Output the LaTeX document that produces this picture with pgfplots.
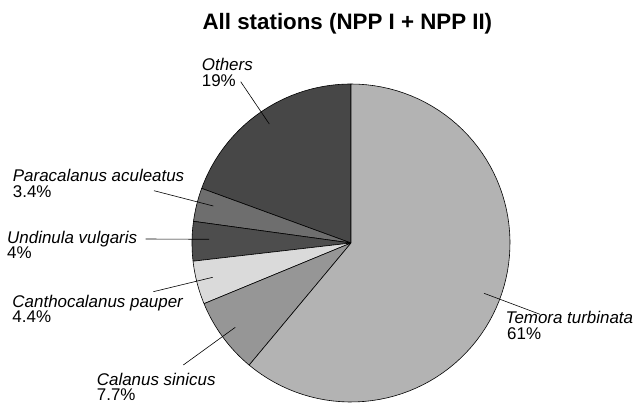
\documentclass[border=0pt]{standalone}
\usepackage{pgfplots}
\pgfplotsset{compat=1.18}
\usepackage{pgfplotstable}
\usepackage{fontspec}
\setmainfont{Liberation Sans}
\definecolor{cTem}{HTML}{B3B3B3}
\definecolor{cCal}{HTML}{969696}
\definecolor{cCan}{HTML}{DADADA}
\definecolor{cUnd}{HTML}{4D4D4D}
\definecolor{cPar}{HTML}{6E6E6E}
\definecolor{cOth}{HTML}{474747}
% shares in percent, counter-clockwise from 12 o'clock:
% Others, Paracalanus aculeatus, Undinula vulgaris, Canthocalanus pauper, Calanus sinicus, Temora turbinata
\pgfplotstableread{
value
19.4
3.4
4
4.4
7.7
61
}\piedata
\begin{document}
\begin{tikzpicture}
\pgfplotstablegetelem{0}{value}\of\piedata \let\vA\pgfplotsretval
\pgfplotstablegetelem{1}{value}\of\piedata \let\vB\pgfplotsretval
\pgfplotstablegetelem{2}{value}\of\piedata \let\vC\pgfplotsretval
\pgfplotstablegetelem{3}{value}\of\piedata \let\vD\pgfplotsretval
\pgfplotstablegetelem{4}{value}\of\piedata \let\vE\pgfplotsretval
\pgfplotstablegetelem{5}{value}\of\piedata \let\vF\pgfplotsretval
\pgfmathsetmacro\tot{\vA+\vB+\vC+\vD+\vE+\vF}
\pgfmathsetmacro\aA{90}
\pgfmathsetmacro\aB{\aA+(\vA/\tot)*360}
\pgfmathsetmacro\aC{\aB+(\vB/\tot)*360}
\pgfmathsetmacro\aD{\aC+(\vC/\tot)*360}
\pgfmathsetmacro\aE{\aD+(\vD/\tot)*360}
\pgfmathsetmacro\aF{\aE+(\vE/\tot)*360}
\pgfmathsetmacro\aG{\aF+(\vF/\tot)*360}
\begin{axis}[scale only axis, width=636bp, height=403bp,
  xmin=0, xmax=636, ymin=0, ymax=403, hide axis, clip=false]
\coordinate (bl) at (axis cs:0,0);
\coordinate (tr) at (axis cs:636,403);
\pgfplotsset{slice/.style={draw=black, line width=0.6pt, line join=round, samples=80}}
\addplot[slice, fill=cOth, domain=\aA:\aB] ({351+159*cos(x)},{160+159*sin(x)}) -- (axis cs:351,160) -- cycle;
\addplot[slice, fill=cPar, domain=\aB:\aC] ({351+159*cos(x)},{160+159*sin(x)}) -- (axis cs:351,160) -- cycle;
\addplot[slice, fill=cUnd, domain=\aC:\aD] ({351+159*cos(x)},{160+159*sin(x)}) -- (axis cs:351,160) -- cycle;
\addplot[slice, fill=cCan, domain=\aD:\aE] ({351+159*cos(x)},{160+159*sin(x)}) -- (axis cs:351,160) -- cycle;
\addplot[slice, fill=cCal, domain=\aE:\aF] ({351+159*cos(x)},{160+159*sin(x)}) -- (axis cs:351,160) -- cycle;
\addplot[slice, fill=cTem, domain=\aF:\aG] ({351+159*cos(x)},{160+159*sin(x)}) -- (axis cs:351,160) -- cycle;
% leader lines
\addplot[black, line width=0.6pt] coordinates {(240.7,321.3) (269.3,279)};
\addplot[black, line width=0.6pt] coordinates {(154,212.3) (213.3,197)};
\addplot[black, line width=0.6pt] coordinates {(145.7,164) (209,163.7)};
\addplot[black, line width=0.6pt] coordinates {(153.3,111.3) (212.7,125.7)};
\addplot[black, line width=0.6pt] coordinates {(183.3,38) (235.3,75.7)};
\addplot[black, line width=0.6pt] coordinates {(540,88.7) (484,109.7)};
% title
\node[anchor=base, inner sep=0pt, font=\fontsize{22.4}{24}\selectfont\bfseries] at (axis cs:347.4,373.7) {All stations (NPP I + NPP II)};
% labels
\tikzset{lab/.style={anchor=base west, inner sep=0pt, font=\fontsize{17}{18}\selectfont\itshape},
         pct/.style={anchor=base west, inner sep=0pt, font=\fontsize{17}{18}\selectfont}}
\node[lab] at (axis cs:201.7,332.3) {Others};
\node[pct] at (axis cs:201.7,316.7) {19\%};
\node[lab] at (axis cs:12.7,221.3) {Paracalanus aculeatus};
\node[pct] at (axis cs:12.7,205.3) {3.4\%};
\node[lab] at (axis cs:7,159.7) {Undinula vulgaris};
\node[pct] at (axis cs:7,144) {4\%};
\node[lab] at (axis cs:12.3,95.7) {Canthocalanus pauper};
\node[pct] at (axis cs:12.3,80.3) {4.4\%};
\node[lab] at (axis cs:96.7,18) {Calanus sinicus};
\node[pct] at (axis cs:96.7,2.3) {7.7\%};
\node[lab] at (axis cs:505.5,80) {Temora turbinata};
\node[pct] at (axis cs:507,64) {61\%};
\end{axis}
\pgfresetboundingbox
\path[use as bounding box] (bl) rectangle (tr);
\end{tikzpicture}
\end{document}
